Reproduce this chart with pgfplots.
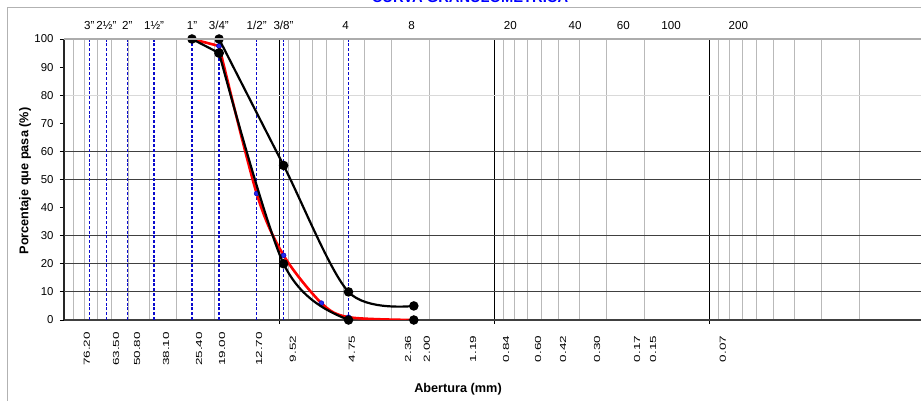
\documentclass[border=0pt]{standalone}
\usepackage{pgfplots}
\pgfplotsset{compat=1.18}
\usepackage{fontspec}
\setmainfont{Liberation Sans}
\definecolor{sieveblue}{RGB}{10,10,205}
\definecolor{markblue}{RGB}{40,40,235}
\begin{document}
\begin{tikzpicture}
\useasboundingbox (0pt,0pt) rectangle (921pt,401pt);
\fill[white] (0pt,0pt) rectangle (921pt,401pt);
\draw[gray!60, line width=1pt] (7pt,-5pt) -- (7pt,393pt) -- (930pt,393pt);
\node[anchor=base, text=blue, font=\bfseries\fontsize{14.7}{15}\selectfont] at (470pt,398pt) {CURVA GRANULOMETRICA};
\begin{axis}[
  at={(64pt,81pt)}, anchor=south west,
  scale only axis, width=860pt, height=281pt,
  xmode=log, x dir=reverse,
  xmin=0.01, xmax=100, ymin=0, ymax=100,
  clip mode=individual,
  /pgf/number format/assume math mode=true,
  separate axis lines,
  x axis line style={draw=black!75, line width=1.4pt},
  y axis line style={draw=black!85, line width=1.2pt},
  tick align=outside, major tick length=4pt, minor tick length=0pt,
  xtick pos=bottom, ytick pos=left,
  tick style={black, line width=0.8pt},
  xtick={10,1,0.1}, xticklabels={},
  xmajorgrids, major x grid style={black, line width=0.7pt},
  minor xtick={90,80,70,60,50,40,30,20,9,8,7,6,5,4,3,2,0.9,0.8,0.7,0.6,0.5,0.4,0.3,0.2,0.09,0.08,0.07,0.06,0.05,0.04,0.03,0.02},
  xminorgrids, minor x grid style={gray!55, line width=0.7pt},
  extra x ticks={78.2,57.3,45.74,33.54,23.55,18.41,12.39,8.61,4.575,2.512,2.050,1.252,0.8793,0.6243,0.4775,0.3318,0.2162,0.1822,0.0861},
  extra x tick labels={76.20,63.50,50.80,38.10,25.40,19.00,12.70,9.52,4.75,2.36,2.00,1.19,0.84,0.60,0.42,0.30,0.17,0.15,0.07},
  extra x tick style={grid=none, major tick length=0pt},
  xticklabel style={anchor=center, yshift=-29pt, rotate=90, yscale=0.65, font=\fontsize{13.5}{14}\selectfont},
  ytick={0,10,...,100},
  yticklabel style={xshift=-3pt, font=\fontsize{11.4}{12}\selectfont},
  extra y ticks={10,20,30,50,60}, extra y tick labels={},
  extra y tick style={grid=major, major y grid style={black!75, line width=0.8pt}},
  minor ytick={80}, yminorgrids, minor y grid style={gray!30, line width=0.8pt},
]
% sieve lines
\addplot[sieveblue, line width=1.3pt, dash pattern=on 3pt off 1.8pt] coordinates {(76.2,0) (76.2,100)};
\addplot[sieveblue, line width=1.3pt, dash pattern=on 3pt off 1.8pt] coordinates {(63.5,0) (63.5,100)};
\addplot[sieveblue, line width=1.3pt, dash pattern=on 3pt off 1.8pt] coordinates {(50.8,0) (50.8,100)};
\addplot[sieveblue, line width=1.3pt, dash pattern=on 3pt off 1.8pt] coordinates {(38.1,0) (38.1,100)};
\addplot[sieveblue, line width=1.3pt, dash pattern=on 3pt off 1.8pt] coordinates {(25.4,0) (25.4,100)};
\addplot[sieveblue, line width=1.3pt, dash pattern=on 3pt off 1.8pt] coordinates {(19.0,0) (19.0,100)};
\addplot[sieveblue, line width=1.3pt, dash pattern=on 3pt off 1.8pt] coordinates {(12.7,0) (12.7,100)};
\addplot[sieveblue, line width=1.3pt, dash pattern=on 3pt off 1.8pt] coordinates {(9.52,0) (9.52,100)};
\addplot[sieveblue, line width=1.3pt, dash pattern=on 3pt off 1.8pt] coordinates {(4.75,0) (4.75,100)};
% sample curve (first segment, then smoothed remainder)
\addplot[red, line width=2.6pt, mark=*, mark size=2.4pt,
  mark options={draw=sieveblue, fill=markblue, line width=0.6pt}]
  coordinates {(25.4,100) (19.0,97.5)};
\addplot[red, line width=2.6pt, smooth, mark=*, mark size=2.4pt,
  mark options={draw=sieveblue, fill=markblue, line width=0.6pt}]
  coordinates {(19.0,97.5) (12.7,45) (9.52,23) (6.35,6) (4.75,1) (2.36,0)};
% lower limit
\addplot[black, line width=2.2pt, mark=*, mark size=3.6pt, mark options={fill=black}]
  coordinates {(25.4,100) (19.0,95)};
\addplot[black, line width=2.2pt, smooth, mark=*, mark size=3.6pt, mark options={fill=black}]
  coordinates {(19.0,95) (9.52,20) (4.75,0) (2.36,0)};
% upper limit
\addplot[black, line width=2.2pt, smooth, mark=*, mark size=3.6pt, mark options={fill=black}]
  coordinates {(19.0,100) (9.52,55) (4.75,10) (2.36,5)};
% top labels (sieve designations)
\node[anchor=base, font=\fontsize{11.6}{12}\selectfont, yshift=9pt] at (axis cs:76.2,100) {3"};
\node[anchor=base, font=\fontsize{11.6}{12}\selectfont, yshift=9pt] at (axis cs:63.5,100) {2½"};
\node[anchor=base, font=\fontsize{11.6}{12}\selectfont, yshift=9pt] at (axis cs:50.8,100) {2"};
\node[anchor=base, font=\fontsize{11.6}{12}\selectfont, yshift=9pt] at (axis cs:38.1,100) {1½"};
\node[anchor=base, font=\fontsize{11.6}{12}\selectfont, yshift=9pt] at (axis cs:25.4,100) {1"};
\node[anchor=base, font=\fontsize{11.6}{12}\selectfont, yshift=9pt] at (axis cs:19.05,100) {3/4"};
\node[anchor=base, font=\fontsize{11.6}{12}\selectfont, yshift=9pt] at (axis cs:12.7,100) {1/2"};
\node[anchor=base, font=\fontsize{11.6}{12}\selectfont, yshift=9pt] at (axis cs:9.525,100) {3/8"};
\node[anchor=base, font=\fontsize{11.6}{12}\selectfont, yshift=9pt] at (axis cs:4.9,100) {4};
\node[anchor=base, font=\fontsize{11.6}{12}\selectfont, yshift=9pt] at (axis cs:2.42,100) {8};
\node[anchor=base, font=\fontsize{11.6}{12}\selectfont, yshift=9pt] at (axis cs:0.84,100) {20};
\node[anchor=base, font=\fontsize{11.6}{12}\selectfont, yshift=9pt] at (axis cs:0.42,100) {40};
\node[anchor=base, font=\fontsize{11.6}{12}\selectfont, yshift=9pt] at (axis cs:0.25,100) {60};
\node[anchor=base, font=\fontsize{11.6}{12}\selectfont, yshift=9pt] at (axis cs:0.15,100) {100};
\node[anchor=base, font=\fontsize{11.6}{12}\selectfont, yshift=9pt] at (axis cs:0.073,100) {200};
\end{axis}
\draw[gray!65, line width=2pt] (64pt,362pt) -- (930pt,362pt);
\node[font=\bfseries\fontsize{12.7}{13}\selectfont] at (458pt,12pt) {Abertura (mm)};
\node[rotate=90, font=\bfseries\fontsize{12.7}{13}\selectfont] at (25pt,220pt) {Porcentaje que pasa (\%)};
\end{tikzpicture}
\end{document}
